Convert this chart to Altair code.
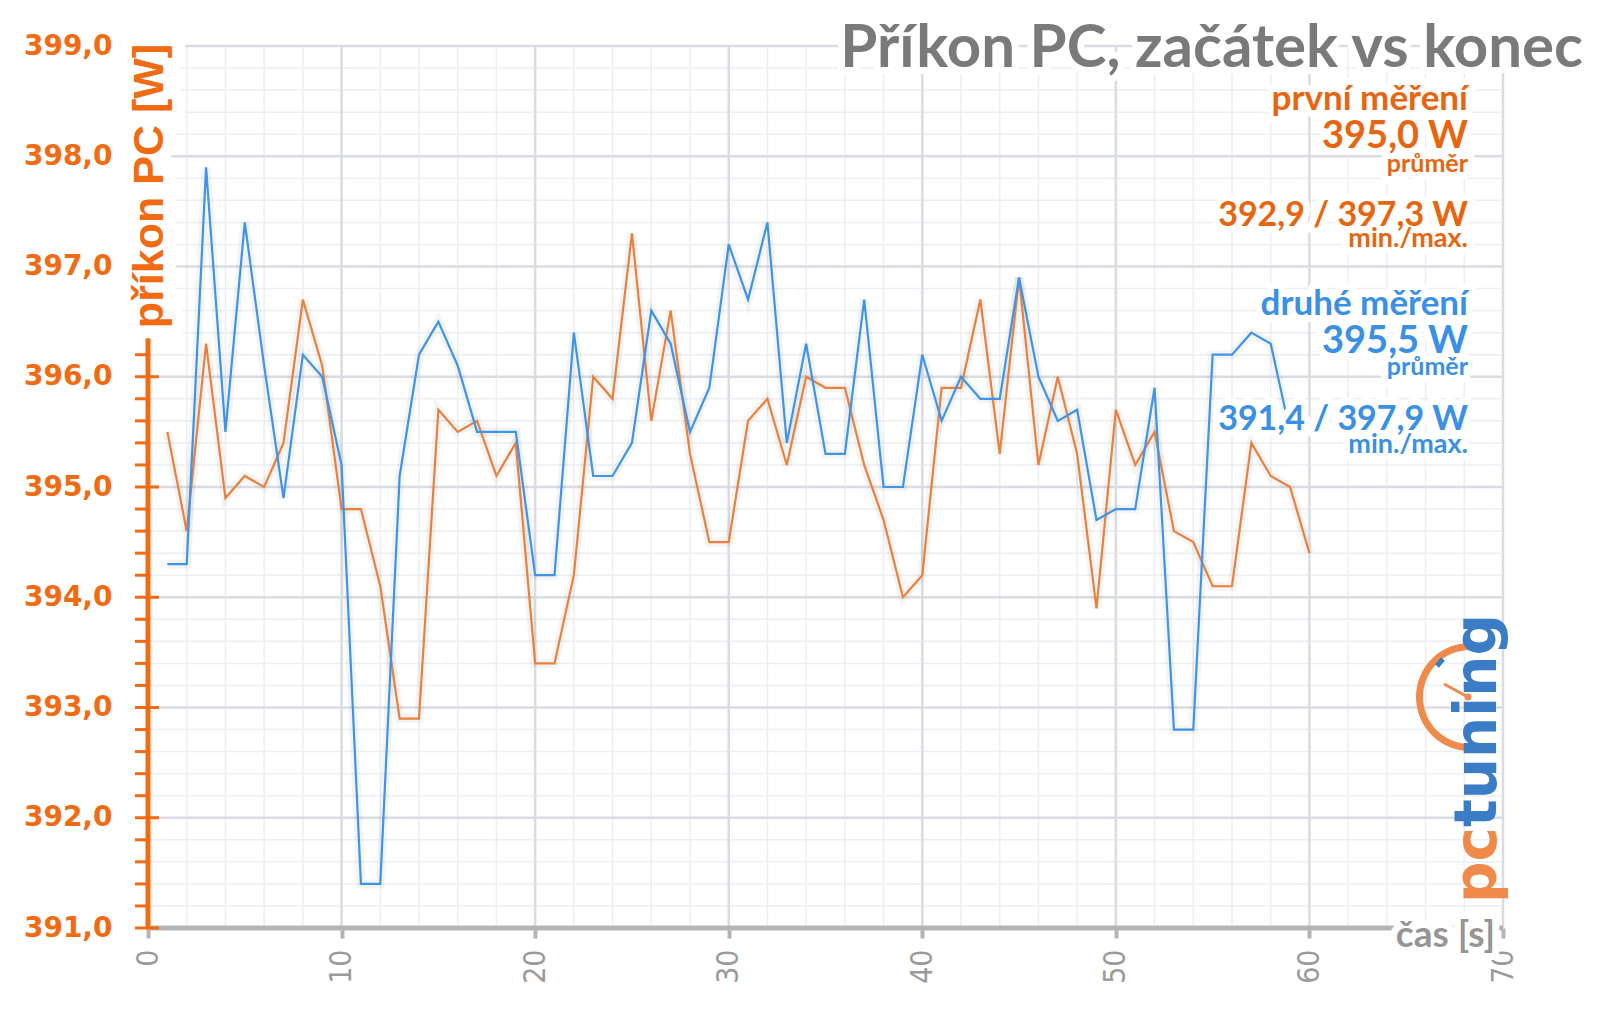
import math
import altair as alt
import pandas as pd

# ---------------- data ----------------
T_FIRST = list(range(1, 61))
FIRST = [395.5, 394.6, 396.3, 394.9, 395.1, 395.0, 395.4, 396.7, 396.1, 394.8,
         394.8, 394.1, 392.9, 392.9, 395.7, 395.5, 395.6, 395.1, 395.4, 393.4,
         393.4, 394.2, 396.0, 395.8, 397.3, 395.6, 396.6, 395.3, 394.5, 394.5,
         395.6, 395.8, 395.2, 396.0, 395.9, 395.9, 395.2, 394.7, 394.0, 394.2,
         395.9, 395.9, 396.7, 395.3, 396.9, 395.2, 396.0, 395.3, 393.9, 395.7,
         395.2, 395.5, 394.6, 394.5, 394.1, 394.1, 395.4, 395.1, 395.0, 394.4]
T_SECOND = list(range(1, 60))
SECOND = [394.3, 394.3, 397.9, 395.5, 397.4, 396.1, 394.9, 396.2, 396.0, 395.2,
          391.4, 391.4, 395.1, 396.2, 396.5, 396.1, 395.5, 395.5, 395.5, 394.2,
          394.2, 396.4, 395.1, 395.1, 395.4, 396.6, 396.3, 395.5, 395.9, 397.2,
          396.7, 397.4, 395.4, 396.3, 395.3, 395.3, 396.7, 395.0, 395.0, 396.2,
          395.6, 396.0, 395.8, 395.8, 396.9, 396.0, 395.6, 395.7, 394.7, 394.8,
          394.8, 395.9, 392.8, 392.8, 396.2, 396.2, 396.4, 396.3, 395.5]
SERIES = ["první měření", "druhé měření"]

Y_MAJOR = list(range(391, 400))
Y_MINOR = [round(391 + 0.2 * i, 1) for i in range(41) if i % 5]
X_MAJOR = list(range(0, 71, 10))
X_MINOR = [i for i in range(0, 71, 2) if i % 10]

TITLE = "Příkon PC, začátek vs konec"
Y_TITLE = "příkon PC [W]"
X_TITLE = "čas [s]"
INFO = [
    ("první měření", "o", 35), ("395,0 W", "o", 38), ("průměr", "o", 25),
    ("392,9 / 397,3 W", "o", 34), ("min./max.", "o", 27),
    ("druhé měření", "b", 35), ("395,5 W", "b", 38), ("průměr", "b", 25),
    ("391,4 / 397,9 W", "b", 34), ("min./max.", "b", 27),
]
INFO_BASELINES = [64, 102, 126, 180, 201, 269, 307, 329, 384, 407]

# ---------------- styles ----------------
ORANGE_AXIS = "#F26A12"
ORANGE_LINE = "#E9813D"
BLUE_LINE = "#3D94E9"
ORANGE_TXT = "#E8650F"
BLUE_TXT = "#3A90E6"
GRAY_TITLE = "#7A7A7A"
GRAY_AXIS = "#B5B5B5"
GRAY_LABEL = "#9A9A9A"
GRID_MAJOR = "#DADCE4"
GRID_MINOR = "#EDEEF2"
LOGO_ORANGE = "#F08A4B"
LOGO_BLUE = "#3B7CC6"

W, H = 1355, 882
xs = alt.Scale(domain=[0, 70], nice=False, zero=False)
ys = alt.Scale(domain=[391, 399], nice=False, zero=False)

x_axis = alt.Axis(values=X_MAJOR, labelAngle=270,
                  labelFont="DejaVu Sans Condensed, Liberation Sans Narrow, DejaVu Sans",
                  labelFontSize=30, labelColor=GRAY_LABEL, labelPadding=11,
                  tickColor=GRAY_AXIS, tickWidth=4, tickSize=10, domain=False,
                  grid=False, title=None, labelFlush=False, labelOverlap=False)
y_axis = alt.Axis(values=Y_MAJOR, labelExpr="replace(format(datum.value, '.1f'), '.', ',')",
                  labelFont="DejaVu Sans", labelFontWeight="bold", labelFontSize=28,
                  labelColor=ORANGE_AXIS, labelPadding=36, ticks=False, tickSize=0,
                  domain=False, grid=False, title=None, labelFlush=False, labelOverlap=False)


def X(field):
    return alt.X(field, scale=xs, axis=x_axis)


def Y(field):
    return alt.Y(field, scale=ys, axis=y_axis)


# ---------------- layers ----------------
def hgrid(vals, color, width):
    return alt.Chart(pd.DataFrame({"v": vals})).mark_rule(color=color, strokeWidth=width).encode(y=Y("v:Q"))


def vgrid(vals, color, width):
    return alt.Chart(pd.DataFrame({"v": vals})).mark_rule(color=color, strokeWidth=width).encode(x=X("v:Q"))


df = pd.concat([
    pd.DataFrame({"t": T_FIRST, "w": FIRST, "s": SERIES[0]}),
    pd.DataFrame({"t": T_SECOND, "w": SECOND, "s": SERIES[1]}),
])

shadow = alt.Chart(df).mark_line(strokeWidth=9, color="#000000", opacity=0.045).encode(
    x=X("t:Q"), y=Y("w:Q"), detail="s:N")
lines = alt.Chart(df).mark_line(strokeWidth=2.2).encode(
    x=X("t:Q"), y=Y("w:Q"),
    color=alt.Color("s:N", scale=alt.Scale(domain=SERIES, range=[ORANGE_LINE, BLUE_LINE]), legend=None),
)

x_line = alt.Chart(pd.DataFrame({"a": [0], "b": [70], "y": [391]})).mark_rule(
    color=GRAY_AXIS, strokeWidth=5).encode(x=X("a:Q"), x2="b:Q", y=Y("y:Q"))

y_line = alt.Chart(pd.DataFrame({"a": [391], "b": [399]})).mark_rule(
    color=ORANGE_AXIS, strokeWidth=5).encode(y=Y("a:Q"), y2="b:Q", x=alt.value(0))

y_major_ticks = alt.Chart(pd.DataFrame({"v": Y_MAJOR})).mark_rule(
    color=ORANGE_AXIS, strokeWidth=3).encode(y=Y("v:Q"), x=alt.value(-13), x2=alt.value(11))
y_minor_ticks = alt.Chart(pd.DataFrame({"v": Y_MINOR})).mark_rule(
    color=ORANGE_AXIS, strokeWidth=3).encode(y=Y("v:Q"), x=alt.value(-13), x2=alt.value(0))


def text_pair(s, x, y, size, color, font="Lato", align="right", baseline="alphabetic", angle=None, halo=14):
    d = pd.DataFrame({"t": [s]})
    kw = dict(align=align, baseline=baseline, font=font, fontWeight="bold", fontSize=size)
    if angle is not None:
        kw["angle"] = angle
    enc = dict(text="t:N", x=alt.value(x), y=alt.value(y))
    h = alt.Chart(d).mark_text(fill="white", stroke="white", strokeWidth=halo, strokeJoin="round", **kw).encode(**enc)
    t = alt.Chart(d).mark_text(fill=color, **kw).encode(**enc)
    return h, t


halos, texts = [], []
for (s, c, size), yb in zip(INFO, INFO_BASELINES):
    h, t = text_pair(s, 1320, yb, size, ORANGE_TXT if c == "o" else BLUE_TXT)
    halos.append(h); texts.append(t)

h, t = text_pair(TITLE, 1435, 21, 60, GRAY_TITLE)
halos.append(h); texts.append(t)
h, t = text_pair(X_TITLE, 1347, 901, 37, "#959595")
halos.append(h); texts.append(t)
h, t = text_pair(Y_TITLE, 2, 140, 43, ORANGE_AXIS, font="Liberation Sans", align="center",
                 baseline="middle", angle=270, halo=26)
halos.append(h); texts.append(t)

# logo
one = pd.DataFrame({"t": ["pc"]})
logo_pc = alt.Chart(one).mark_text(align="left", baseline="alphabetic", angle=270, font="DejaVu Sans",
                                   fontWeight="bold", fontSize=58, fill=LOGO_ORANGE).encode(
    text="t:N", x=alt.value(1348), y=alt.value(857))
logo_tu = alt.Chart(pd.DataFrame({"t": ["tuning"]})).mark_text(
    align="left", baseline="alphabetic", angle=270, font="DejaVu Sans",
    fontWeight="bold", fontSize=58, fill=LOGO_BLUE).encode(
    text="t:N", x=alt.value(1348), y=alt.value(781))
logo_arc = alt.Chart(one).mark_arc(radius=54, radius2=47, theta=math.pi, theta2=2 * math.pi,
                                   color=LOGO_ORANGE).encode(x=alt.value(1322), y=alt.value(651))
logo_needle = alt.Chart(one).mark_rule(color=LOGO_ORANGE, strokeWidth=3).encode(
    x=alt.value(1320), y=alt.value(651), x2=alt.value(1296), y2=alt.value(638))
logo_dot = alt.Chart(one).mark_point(filled=True, size=50, color=LOGO_ORANGE, opacity=1).encode(
    x=alt.value(1320), y=alt.value(651))
logo_mark = alt.Chart(one).mark_rule(color=LOGO_BLUE, strokeWidth=5).encode(
    x=alt.value(1289), y=alt.value(620), x2=alt.value(1295), y2=alt.value(613))

chart = alt.layer(
    hgrid(Y_MINOR, GRID_MINOR, 1.5), vgrid(X_MINOR, GRID_MINOR, 1.5),
    hgrid(Y_MAJOR, GRID_MAJOR, 2.5), vgrid(X_MAJOR, GRID_MAJOR, 2.5),
    logo_arc, logo_needle, logo_dot, logo_mark, logo_pc, logo_tu,
    shadow, lines, x_line, y_line, y_major_ticks, y_minor_ticks,
    *halos, *texts,
).properties(
    width=W, height=H,
    autosize=alt.AutoSizeParams(type="none"),
    padding={"left": 140, "top": 38, "right": 89, "bottom": 75},
    background="white",
).configure_view(stroke=None)

chart.save("out.html", embed_options={"renderer": "svg", "actions": False})
